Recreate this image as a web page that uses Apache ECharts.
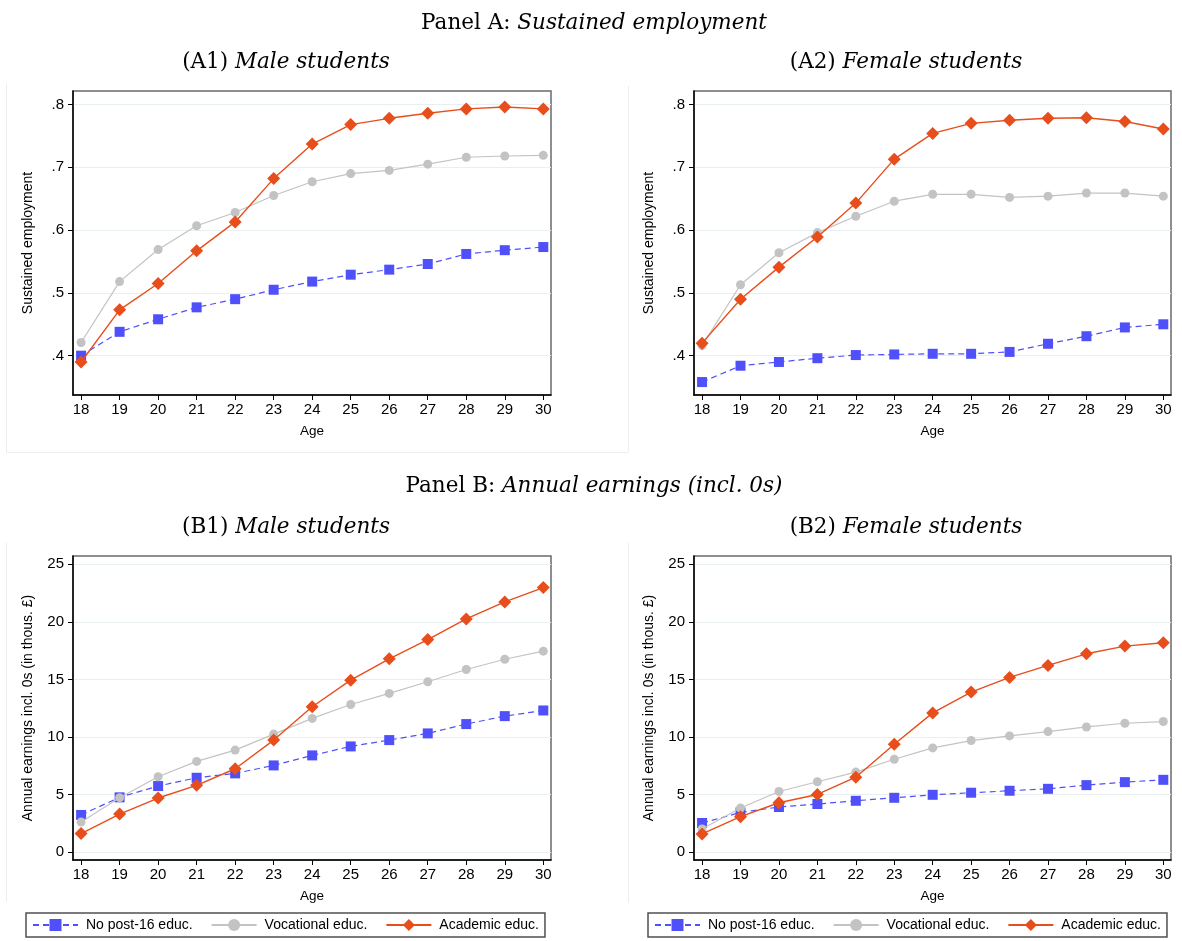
<!DOCTYPE html>
<html>
<head>
<meta charset="utf-8">
<script src="https://cdn.jsdelivr.net/npm/echarts@6/dist/echarts.min.js"></script>
<style>
html,body{margin:0;padding:0;background:#fff;}
#chart{width:1182px;height:941px;}
</style>
</head>
<body>
<div id="chart"></div>
<script>
// ---- data ----
const ages = [18, 19, 20, 21, 22, 23, 24, 25, 26, 27, 28, 29, 30];
const seriesNames = ['No post-16 educ.', 'Vocational educ.', 'Academic educ.'];

const yTicksA = [0.4, 0.5, 0.6, 0.7, 0.8];
const yTickLabelsA = ['.4', '.5', '.6', '.7', '.8'];
const yTicksB = [0, 5, 10, 15, 20, 25];
const yTickLabelsB = ['0', '5', '10', '15', '20', '25'];

// Panel A1: Sustained employment, male
const maleEmpNone = [0.400, 0.438, 0.458, 0.477, 0.490, 0.505, 0.518, 0.529, 0.537, 0.546, 0.562, 0.568, 0.573];
const maleEmpVoc  = [0.421, 0.518, 0.569, 0.607, 0.628, 0.655, 0.677, 0.690, 0.695, 0.705, 0.716, 0.718, 0.719];
const maleEmpAcad = [0.390, 0.473, 0.515, 0.567, 0.613, 0.682, 0.737, 0.768, 0.778, 0.786, 0.793, 0.796, 0.793];

// Panel A2: Sustained employment, female
const femEmpNone = [0.358, 0.384, 0.390, 0.396, 0.401, 0.402, 0.403, 0.403, 0.406, 0.419, 0.431, 0.445, 0.450];
const femEmpVoc  = [0.416, 0.513, 0.564, 0.596, 0.622, 0.646, 0.657, 0.657, 0.652, 0.654, 0.659, 0.659, 0.654];
const femEmpAcad = [0.420, 0.490, 0.541, 0.589, 0.643, 0.713, 0.754, 0.770, 0.775, 0.778, 0.779, 0.773, 0.761];

// Panel B1: Annual earnings incl. 0s, male
const maleEarnNone = [3.24, 4.77, 5.75, 6.47, 6.85, 7.54, 8.41, 9.19, 9.74, 10.32, 11.13, 11.82, 12.31];
const maleEarnVoc  = [2.63, 4.74, 6.56, 7.89, 8.87, 10.26, 11.62, 12.83, 13.79, 14.80, 15.87, 16.76, 17.46];
const maleEarnAcad = [1.62, 3.32, 4.71, 5.81, 7.25, 9.74, 12.63, 14.94, 16.79, 18.47, 20.26, 21.73, 22.98];

// Panel B2: Annual earnings incl. 0s, female
const femEarnNone = [2.54, 3.46, 3.93, 4.19, 4.47, 4.73, 4.99, 5.17, 5.34, 5.51, 5.83, 6.09, 6.29];
const femEarnVoc  = [2.02, 3.84, 5.28, 6.12, 6.96, 8.08, 9.06, 9.70, 10.10, 10.48, 10.88, 11.20, 11.35];
const femEarnAcad = [1.59, 3.09, 4.30, 5.02, 6.52, 9.38, 12.10, 13.91, 15.18, 16.22, 17.23, 17.90, 18.19];

// ---- styling ----
const SANS = '"Liberation Sans", Arial, sans-serif';
const SERIF = '"DejaVu Serif", serif';
const BLUE = '#5050fa';
const GREY = '#c3c3c3';
const ORANGE = '#e84e1b';

const panels = [
  { grid: {left: 73, top: 91, width: 478, height: 304}, ymin: 0.3374, ymax: 0.8215, ticks: yTicksA, labels: yTickLabelsA,
    yname: 'Sustained employment', data: [maleEmpNone, maleEmpVoc, maleEmpAcad] },
  { grid: {left: 694, top: 91, width: 477, height: 304}, ymin: 0.3374, ymax: 0.8215, ticks: yTicksA, labels: yTickLabelsA,
    yname: 'Sustained employment', data: [femEmpNone, femEmpVoc, femEmpAcad] },
  { grid: {left: 73, top: 556, width: 478, height: 304}, ymin: -0.67, ymax: 25.72, ticks: yTicksB, labels: yTickLabelsB,
    yname: 'Annual earnings incl. 0s (in thous. \u00a3)', data: [maleEarnNone, maleEarnVoc, maleEarnAcad] },
  { grid: {left: 694, top: 556, width: 477, height: 304}, ymin: -0.67, ymax: 25.72, ticks: yTicksB, labels: yTickLabelsB,
    yname: 'Annual earnings incl. 0s (in thous. \u00a3)', data: [femEarnNone, femEarnVoc, femEarnAcad] }
];

const grids = [], xAxes = [], yAxes = [], series = [];
panels.forEach((p, k) => {
  grids.push(Object.assign({show: true, borderColor: '#6a6a6a', borderWidth: 1.5, backgroundColor: '#fff', containLabel: false}, p.grid));
  xAxes.push({
    type: 'value', gridIndex: k, min: 17.79, max: 30.2,
    name: 'Age', nameLocation: 'middle', nameGap: 29,
    nameTextStyle: {fontFamily: SANS, fontSize: 13.5, color: '#000'},
    axisLine: {show: true, onZero: false, lineStyle: {color: '#000', width: 1.5}},
    axisTick: {show: true, length: 5, customValues: ages, lineStyle: {color: '#000', width: 1}},
    axisLabel: {show: true, customValues: ages, margin: 7, fontFamily: SANS, fontSize: 15, color: '#000'},
    splitLine: {show: false}
  });
  yAxes.push({
    type: 'value', gridIndex: k, min: p.ymin, max: p.ymax,
    name: p.yname, nameLocation: 'middle', nameGap: 38, nameRotate: 90,
    nameTextStyle: {fontFamily: SANS, fontSize: 14, color: '#000'},
    axisLine: {show: true, onZero: false, lineStyle: {color: '#000', width: 1.5}},
    axisTick: {show: true, length: 5, customValues: p.ticks, lineStyle: {color: '#000', width: 1}},
    axisLabel: {show: true, customValues: p.ticks, margin: 9, fontFamily: SANS, fontSize: 15, color: '#000',
      formatter: v => { const i = p.ticks.findIndex(t => Math.abs(t - v) < 1e-9); return i >= 0 ? p.labels[i] : ''; }},
    splitLine: {show: true, lineStyle: {color: '#e7eff0', width: 1.2}}
  });
  const styles = [
    {symbol: 'rect', symbolSize: 10, color: BLUE, line: {color: BLUE, width: 1.2, type: [6, 4]}},
    {symbol: 'circle', symbolSize: 9, color: GREY, line: {color: GREY, width: 1.2, type: 'solid'}},
    {symbol: 'diamond', symbolSize: 13, color: ORANGE, line: {color: ORANGE, width: 1.4, type: 'solid'}}
  ];
  p.data.forEach((arr, j) => {
    const s = styles[j];
    series.push({
      type: 'line', name: seriesNames[j], xAxisIndex: k, yAxisIndex: k,
      data: ages.map((a, i) => [a, arr[i]]),
      symbol: s.symbol, symbolSize: s.symbolSize, showAllSymbol: true,
      itemStyle: {color: s.color}, lineStyle: s.line,
      z: 2 + j, animation: false
    });
  });
});

function legendAt(left) {
  return {
    data: seriesNames, left: left, top: 913, orient: 'horizontal',
    padding: [5, 6, 5, 6], itemGap: 18, itemWidth: 45, itemHeight: 15,
    borderColor: '#505050', borderWidth: 1.5, backgroundColor: '#fff',
    textStyle: {fontFamily: SANS, fontSize: 14, color: '#000', padding: [0, 0, 0, 3]},
    selectedMode: false
  };
}

function titleText(x, y, reg, ital) {
  return {
    type: 'text', x: x, y: y,
    style: {
      text: '{r|' + reg + '}{i|' + ital + '}',
      align: 'center', verticalAlign: 'middle',
      rich: {
        r: {fontFamily: SERIF, fontSize: 21.5, fill: '#000'},
        i: {fontFamily: SERIF, fontSize: 21.5, fontStyle: 'italic', fill: '#000'}
      }
    }
  };
}
function faintLine(x1, y1, x2, y2) {
  return {type: 'line', shape: {x1, y1, x2, y2}, style: {stroke: '#ededed', lineWidth: 1}, silent: true};
}

const chart = echarts.init(document.getElementById('chart'), null, {renderer: 'canvas'});
chart.setOption({
  backgroundColor: '#fff',
  animation: false,
  grid: grids, xAxis: xAxes, yAxis: yAxes, series: series,
  legend: [legendAt(26), legendAt(648)],
  graphic: [
    faintLine(6.5, 84, 6.5, 452), faintLine(6.5, 452.5, 628, 452.5), faintLine(628.5, 86, 628.5, 452),
    faintLine(6.5, 543, 6.5, 902), faintLine(628.5, 543, 628.5, 903),
    titleText(594, 23, 'Panel A: ', 'Sustained employment'),
    titleText(286, 62, '(A1) ', 'Male students'),
    titleText(906, 62, '(A2) ', 'Female students'),
    titleText(594, 486, 'Panel B: ', 'Annual earnings (incl. 0s)'),
    titleText(286, 527, '(B1) ', 'Male students'),
    titleText(906, 527, '(B2) ', 'Female students')
  ]
});
</script>
</body>
</html>
